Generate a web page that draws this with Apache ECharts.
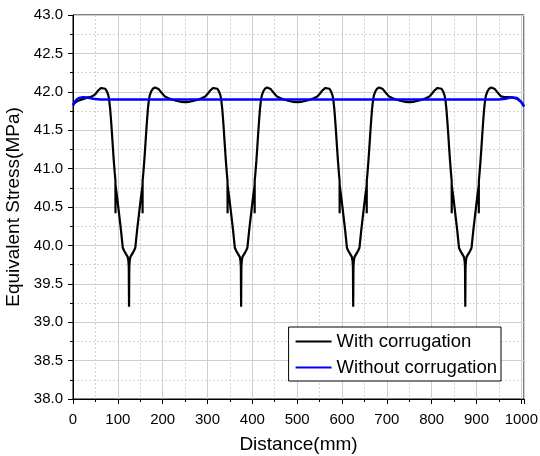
<!DOCTYPE html>
<html>
<head>
<meta charset="utf-8">
<script src="https://cdn.jsdelivr.net/npm/echarts@6/dist/echarts.min.js"></script>
<style>
html,body{margin:0;padding:0;background:#fff;}
#chart{width:540px;height:456px;}
</style>
</head>
<body>
<div id="chart"></div>
<script>
// Distance (mm) / equivalent stress (MPa)
var withCorrugation = [
[0,41.83],[5,41.86],[10,41.88],[20,41.90],[30,41.92],[38,41.93],[45,41.95],[50,41.97],[55,42.01],[59,42.035],[63,42.05],[67,42.055],[72,42.04],[76,42.00],[79,41.95],[81,41.88],[83,41.77],[85,41.62],[87,41.45],[89,41.27],[91,41.10],[93,40.95],[94.7,40.84],[94.8,40.42],[94.9,40.78],[99,40.60],[103,40.40],[107,40.20],[111,39.97],[114,39.93],[118,39.89],[122,39.85],[123.5,39.80],[124.4,39.72],[125,39.20],[125.6,39.72],[126.5,39.80],[128,39.85],[132,39.89],[136,39.93],[139,39.97],[143,40.20],[147,40.40],[151,40.60],[155.1,40.78],[155.2,40.42],[155.3,40.84],[157,40.95],[159,41.10],[161,41.27],[163,41.45],[165,41.62],[167,41.77],[169,41.88],[171,41.95],[174,42.00],[178,42.04],[183,42.055],[187,42.05],[191,42.035],[195,42.01],[200,41.97],[205,41.94],[212,41.92],[220,41.90],[230,41.885],[240,41.87],[250,41.865],
[260,41.87],[270,41.885],[280,41.90],[288,41.92],[295,41.94],[300,41.97],[305,42.01],[309,42.035],[313,42.05],[317,42.055],[322,42.04],[326,42.00],[329,41.95],[331,41.88],[333,41.77],[335,41.62],[337,41.45],[339,41.27],[341,41.10],[343,40.95],[344.7,40.84],[344.8,40.42],[344.9,40.78],[349,40.60],[353,40.40],[357,40.20],[361,39.97],[364,39.93],[368,39.89],[372,39.85],[373.5,39.80],[374.4,39.72],[375,39.20],[375.6,39.72],[376.5,39.80],[378,39.85],[382,39.89],[386,39.93],[389,39.97],[393,40.20],[397,40.40],[401,40.60],[405.1,40.78],[405.2,40.42],[405.3,40.84],[407,40.95],[409,41.10],[411,41.27],[413,41.45],[415,41.62],[417,41.77],[419,41.88],[421,41.95],[424,42.00],[428,42.04],[433,42.055],[437,42.05],[441,42.035],[445,42.01],[450,41.97],[455,41.94],[462,41.92],[470,41.90],[480,41.885],[490,41.87],[500,41.865],
[510,41.87],[520,41.885],[530,41.90],[538,41.92],[545,41.94],[550,41.97],[555,42.01],[559,42.035],[563,42.05],[567,42.055],[572,42.04],[576,42.00],[579,41.95],[581,41.88],[583,41.77],[585,41.62],[587,41.45],[589,41.27],[591,41.10],[593,40.95],[594.7,40.84],[594.8,40.42],[594.9,40.78],[599,40.60],[603,40.40],[607,40.20],[611,39.97],[614,39.93],[618,39.89],[622,39.85],[623.5,39.80],[624.4,39.72],[625,39.20],[625.6,39.72],[626.5,39.80],[628,39.85],[632,39.89],[636,39.93],[639,39.97],[643,40.20],[647,40.40],[651,40.60],[655.1,40.78],[655.2,40.42],[655.3,40.84],[657,40.95],[659,41.10],[661,41.27],[663,41.45],[665,41.62],[667,41.77],[669,41.88],[671,41.95],[674,42.00],[678,42.04],[683,42.055],[687,42.05],[691,42.035],[695,42.01],[700,41.97],[705,41.94],[712,41.92],[720,41.90],[730,41.885],[740,41.87],[750,41.865],
[760,41.87],[770,41.885],[780,41.90],[788,41.92],[795,41.94],[800,41.97],[805,42.01],[809,42.035],[813,42.05],[817,42.055],[822,42.04],[826,42.00],[829,41.95],[831,41.88],[833,41.77],[835,41.62],[837,41.45],[839,41.27],[841,41.10],[843,40.95],[844.7,40.84],[844.8,40.42],[844.9,40.78],[849,40.60],[853,40.40],[857,40.20],[861,39.97],[864,39.93],[868,39.89],[872,39.85],[873.5,39.80],[874.4,39.72],[875,39.20],[875.6,39.72],[876.5,39.80],[878,39.85],[882,39.89],[886,39.93],[889,39.97],[893,40.20],[897,40.40],[901,40.60],[905.1,40.78],[905.2,40.42],[905.3,40.84],[907,40.95],[909,41.10],[911,41.27],[913,41.45],[915,41.62],[917,41.77],[919,41.88],[921,41.95],[924,42.00],[928,42.04],[933,42.055],[937,42.05],[941,42.035],[945,42.01],[950,41.97],[955,41.94],[962,41.93],[970,41.93],[980,41.925],[990,41.91],[997,41.88],[1002,41.85],[1006,41.81]
];
var withoutCorrugation = [
[0,41.82],[4,41.87],[8,41.90],[14,41.92],[22,41.93],[32,41.925],[45,41.91],[60,41.90],[200,41.90],[400,41.90],[600,41.90],[800,41.90],[950,41.90],[965,41.91],[978,41.93],[990,41.92],[998,41.88],[1003,41.84],[1006,41.81]
];
var seriesNames = ['With corrugation', 'Without corrugation'];
var xTicks = [0,100,200,300,400,500,600,700,800,900,1000];
var yTicks = [38.0,38.5,39.0,39.5,40.0,40.5,41.0,41.5,42.0,42.5,43.0];

var FONT = '"Liberation Sans", Arial, sans-serif';
var chart = echarts.init(document.getElementById('chart'), null, {renderer:'canvas'});
var axisCommon = {
  axisLine: {show:true, onZero:false, lineStyle:{color:'#000', width:1}},
  axisTick: {show:true, inside:false, length:5, lineStyle:{color:'#000', width:1}},
  minorTick: {show:true, splitNumber:2, length:3, lineStyle:{color:'#000', width:1}},
  splitLine: {show:true, lineStyle:{color:'#cfcfcf', width:1, type:'solid'}},
  minorSplitLine: {show:true, lineStyle:{color:'#d4d4d4', width:1, type:[2,2]}},
  nameLocation: 'middle',
  nameTextStyle: {fontFamily:FONT, fontSize:19, color:'#000'}
};
chart.setOption({
  animation: false,
  backgroundColor: '#fff',
  grid: {left:73, right:16, top:15, bottom:57, outerBoundsMode:'none', containLabel:false,
         show:true, borderColor:'#000', borderWidth:1, backgroundColor:'transparent'},
  xAxis: Object.assign({}, axisCommon, {
    type:'value', min:xTicks[0], max:1006, interval:100,
    name:'Distance(mm)', nameGap:36,
    axisLabel:{fontFamily:FONT, fontSize:15, color:'#000', margin:13, showMaxLabel:false,
      formatter:function(v){ return xTicks.indexOf(v) >= 0 ? String(v) : ''; }}
  }),
  yAxis: Object.assign({}, axisCommon, {
    type:'value', min:yTicks[0], max:yTicks[yTicks.length-1], interval:0.5,
    name:'Equivalent Stress(MPa)', nameGap:50,
    axisLabel:{fontFamily:FONT, fontSize:15, color:'#000', margin:10,
      formatter:function(v){ return v.toFixed(1); }}
  }),
  legend: {
    data: seriesNames,
    orient:'vertical', right:39, top:327,
    backgroundColor:'#fff', borderColor:'#000', borderWidth:1, borderRadius:0,
    padding:[5,4,4,6], itemGap:7, itemWidth:36, itemHeight:18,
    itemStyle:{opacity:0, color:'rgba(0,0,0,0)', borderWidth:0},
    textStyle:{fontFamily:FONT, fontSize:18.5, color:'#000', lineHeight:18}
  },
  series: [
    {name:seriesNames[0], type:'line', data:withCorrugation, symbol:'none', showSymbol:false,
     lineStyle:{color:'#000', width:2.2}, itemStyle:{color:'#000'}, z:3},
    {name:seriesNames[1], type:'line', data:withoutCorrugation, symbol:'none', showSymbol:false,
     lineStyle:{color:'#0000ff', width:2.5}, itemStyle:{color:'#0000ff'}, z:4}
  ]
});
</script>
</body>
</html>
